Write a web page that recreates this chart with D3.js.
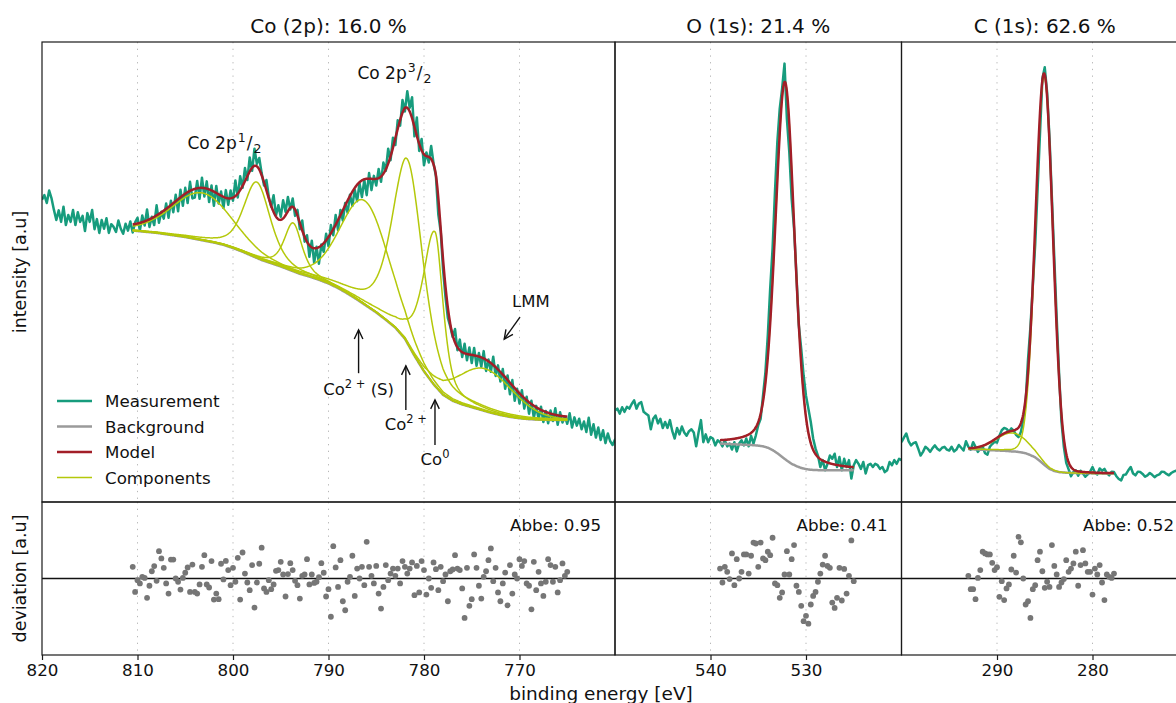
<!DOCTYPE html>
<html>
<head>
<meta charset="utf-8">
<script src="https://cdn.jsdelivr.net/npm/d3@7"></script>
<style>
  html, body { margin: 0; padding: 0; background: #ffffff; }
  svg { display: block; font-family: "DejaVu Sans", sans-serif; }
</style>
</head>
<body>
<svg id="chart" width="1176" height="703"></svg>
<script>
// ---------------------------------------------------------------------------
// XPS fit summary: Co 2p, O 1s and C 1s regions with fitted components
// and the normalised deviation of each fit.
// ---------------------------------------------------------------------------

// Sampling of the measured spectra (binding energy, eV)
const measStep = 0.25;

// ---- Co 2p region ----------------------------------------------------------
const coTitle = "Co (2p): 16.0 %";
const coMeasStart = 820;
const coMeasurement = [
  65.7, 66.7, 65.0, 67.7, 66.0, 63.5, 61.3, 63.4, 60.9, 64.2,
  60.2, 62.4, 60.9, 63.5, 60.2, 63.0, 60.9, 62.2, 58.9, 62.8,
  60.9, 63.5, 59.3, 61.5, 58.5, 61.3, 59.4, 61.7, 58.5, 60.4,
  59.8, 58.7, 61.2, 59.4, 58.3, 60.5, 59.0, 61.0, 58.6, 60.8,
  61.8, 59.0, 62.3, 60.1, 63.6, 59.8, 62.0, 60.2, 64.5, 60.7,
  63.1, 61.6, 64.9, 61.8, 65.5, 63.0, 66.8, 63.2, 67.9, 64.4,
  68.3, 65.0, 69.6, 66.0, 66.2, 69.8, 65.9, 70.5, 66.4, 69.7,
  65.2, 68.8, 64.4, 68.7, 64.9, 67.5, 63.9, 67.8, 64.6, 67.7,
  65.5, 69.9, 66.2, 70.8, 68.3, 72.6, 70.0, 74.9, 72.0, 76.8,
  73.5, 74.8, 71.5, 68.8, 70.0, 66.3, 64.2, 66.7, 62.3, 64.5,
  62.0, 65.6, 63.1, 66.3, 63.6, 66.0, 62.2, 63.5, 59.3, 61.2,
  56.6, 58.0, 53.3, 56.8, 52.0, 55.5, 51.8, 56.0, 54.4, 58.3,
  55.6, 60.2, 58.0, 62.4, 59.1, 63.5, 61.2, 65.0, 62.9, 66.8,
  64.4, 67.9, 65.4, 69.3, 66.3, 70.0, 66.7, 71.5, 67.8, 70.9,
  68.8, 72.4, 69.6, 73.8, 72.0, 76.8, 74.3, 79.2, 77.6, 83.0,
  81.8, 87.4, 84.9, 89.3, 85.7, 88.0, 79.5, 83.6, 76.3, 78.9,
  73.2, 76.0, 73.8, 77.4, 73.6, 70.8, 62.5, 58.8, 50.4, 44.6,
  40.0, 38.2, 35.9, 37.6, 33.0, 35.3, 31.5, 34.4, 30.8, 33.6,
  30.2, 33.5, 29.6, 32.4, 29.4, 32.8, 28.5, 31.0, 28.3, 31.6,
  27.4, 29.7, 26.2, 28.9, 24.6, 27.5, 23.4, 26.5, 22.0, 24.6,
  21.4, 24.3, 20.3, 22.9, 19.2, 22.0, 18.3, 20.9, 18.0, 20.7,
  17.4, 19.8, 17.1, 19.9, 17.6, 20.4, 16.8, 19.5, 17.3, 18.6,
  17.0, 19.3, 16.2, 18.4, 16.6, 18.1, 15.8, 17.5, 15.2, 18.3,
  14.6, 16.9, 14.0, 16.2, 13.5, 15.6, 12.8, 14.9, 13.2, 12.4,
  13.6, 12.6
];
// Shirley background, 1 eV nodes from 811 eV downwards
const coBgStart = 811, coBgStep = 1;
const coBackground = [
  59.1, 58.9, 58.7, 58.5, 58.2, 57.9, 57.6, 57.2, 56.8, 56.4,
  55.9, 55.2, 54.4, 53.5, 52.6, 51.9, 51.2, 50.4, 49.6, 49.0,
  48.3, 47.5, 46.5, 45.3, 44.0, 42.6, 41.2, 39.6, 37.9, 35.5,
  31.8, 28.4, 25.6, 23.3, 22.0, 21.2, 20.6, 20.0, 19.4, 18.9,
  18.5, 18.2, 18.0, 17.9, 17.85, 17.8, 17.8
];
const coFitRange = [810.5, 765.0];
// Fitted components: 2p1/2 satellite, Co2+, Co0; 2p3/2 satellite, Co2+, Co0; LMM
const coPeakCenter = [803.2, 797.5, 793.7, 786.2, 781.7, 778.85, 773.6];
const coPeakHeight = [10.3, 16.5, 10.5, 22.6, 40.0, 33.5, 9.2];
const coPeakFwhm   = [7.4, 3.3, 2.2, 6.0, 3.8, 2.0, 7.0];
const coPeakEta    = [0.2, 0.5, 0.6, 0.2, 0.5, 0.6, 0.1];
const coPeakTail   = [0, 0, 0, 0, 0, 0.5, 0];
const coDevStart = 810.5;
const coDeviation = [
  0.61, -0.70, -0.09, -0.26, 0.09, 0.03, -1.01, -0.38, 0.38, 0.65,
  -0.12, 1.43, 1.05, 0.56, -0.26, -0.79, 0.99, 0.99, 0.00, -0.17,
  -0.58, 0.03, 0.30, 0.58, -0.70, 0.73, -0.70, -0.79, -0.31, 0.61,
  1.22, -0.31, -0.47, 0.91, -1.10, -0.79, -1.08, 0.77, -0.05, 0.92,
  0.44, -0.35, 0.56, -0.17, 1.08, -1.10, 1.36, 0.26, -0.21, -0.61,
  0.70, -1.52, -0.21, 0.77, 1.61, -0.52, -0.70, -0.09, -0.56, -0.31,
  0.40, 0.44, 0.87, 0.21, -0.94, 0.23, 0.80, 0.44, -0.12, -0.35,
  -1.05, 0.14, 0.21, 1.01, -0.31, 0.21, -0.23, -0.17, 0.07, 0.80,
  0.30, -0.94, -0.56,
  -2.00, 1.69, 0.58, -0.44, 0.96, -1.19, -1.66, -0.17, 0.09, 1.19,
  -0.91, 0.52, 0.00, 0.61, -0.35, 1.92, 0.61, 0.14, -0.26, 0.66,
  -0.79, -1.57, -0.44, 0.70, -0.09, 0.26, 0.52, 0.14, 0.52, -0.26,
  0.91, 0.61, 0.26, 0.52, 0.84, -0.87, 0.66, -0.73, 0.91, 0.44,
  -0.84, 0.00, -0.49, 0.84, 0.49, -0.61, 0.61, -0.14, 0.21, -1.19,
  0.38, 0.47, 1.22, 0.52, 0.44, -0.52, -2.06, 0.56, -1.43, -1.08,
  1.26, 0.56, -0.38, -1.05, 0.09, 0.38, 0.96, 1.57, -0.14, 0.56,
  -0.73, -1.19, -0.26, 0.31, -1.40, 0.70, -0.79, 0.21, 0.00, 1.01,
  0.66, 0.91, -0.26, -0.38, -1.61, 0.87, -0.61, 0.35, -0.26, -0.91,
  -0.17, 1.01, 0.70, -0.17, 0.61, -0.73, -0.09, 0.79, 0.14, 0.35
];
const coAbbe = "Abbe: 0.95";
const coTicks = [820, 810, 800, 790, 780, 770];

// ---- O 1s region -----------------------------------------------------------
const oTitle = "O (1s): 21.4 %";
const oMeasStart = 550;
const oMeasurement = [
  19.9, 20.3, 19.2, 20.6, 19.6, 20.7, 20.3, 21.3, 22.1, 20.3,
  21.4, 21.7, 19.6, 19.2, 18.8, 15.8, 18.1, 18.8, 17.1, 18.1,
  16.1, 17.4, 16.1, 17.8, 15.4, 13.8, 16.1, 14.7, 16.4, 15.1,
  14.4, 15.4, 15.8, 15.1, 12.1, 15.1, 17.8, 13.0, 14.7, 13.0,
  14.1, 13.8, 12.3, 13.4, 13.0, 12.1, 13.4, 12.1, 12.7, 11.4,
  13.0, 11.0, 12.7, 13.4, 12.3, 13.8, 12.1, 14.4, 12.7, 14.5,
  16.7, 18.1, 23.1, 28.2, 36.2, 46.4, 55.1, 67.4, 78.3, 85.5,
  89.9, 95.3, 83.3, 76.1, 65.9, 59.4, 49.3, 38.4, 33.3, 27.5,
  23.1, 20.3, 17.4, 13.8, 11.6, 10.1, 7.6, 9.1, 6.9, 8.3,
  10.1, 9.4, 10.5, 7.6, 9.8, 6.9, 9.4, 7.6, 9.1, 5.1,
  8.0, 9.1, 8.3, 7.2, 8.7, 6.2, 8.0, 8.3, 7.6, 8.3,
  8.0, 7.2, 7.6, 6.5, 6.9, 8.7, 8.0, 9.1, 8.3, 9.4,
  9.1
];
const oBgStart = 539, oBgStep = 0.5;
const oBackground = [
  12.7, 12.65, 12.6, 12.55, 12.5, 12.45, 12.4, 12.35, 12.25, 12.1,
  11.8, 11.3, 10.6, 9.8, 9.0, 8.3, 7.8, 7.4, 7.15, 7.0,
  6.95, 6.9, 6.9, 6.9, 6.9, 6.9, 6.9, 6.9, 6.9
];
const oFitRange = [539.0, 525.0];
const oPeakCenter = [532.2];
const oPeakHeight = [82.0];
const oPeakFwhm   = [2.4];
const oPeakEta    = [0.3];
const oPeakTail   = [0];
const oDevStart = 539.0;
const oDeviation = [
  0.52, -0.21, 0.61, 0.35, -0.03, 1.31, -0.35, 1.01, 0.00, 0.35,
  1.26, 1.26, 0.26, 1.19, 1.88, 1.83, 0.61, 1.88, 1.05, 0.96,
  1.40, 1.22, 2.13, -0.26, -0.35, -1.01, -0.73, 0.21, 1.43, 0.21,
  1.01, 1.75, -0.38, -0.70, -1.43, -2.23, -1.95, -2.36, -1.36, -0.91,
  -0.70, -0.17, 0.26, 0.73, 1.19, 0.66, 0.56, -1.26, -1.54, -1.01,
  0.56, -1.15, 0.50, -0.79, 0.14, 1.99, -0.14
];
const oAbbe = "Abbe: 0.41";
const oTicks = [540, 530];

// ---- C 1s region -----------------------------------------------------------
const cTitle = "C (1s): 62.6 %";
const cMeasStart = 300;
const cMeasurement = [
  13.0, 14.0, 14.9, 13.2, 12.3, 12.8, 13.0, 11.6, 10.1, 10.9,
  12.0, 11.6, 10.9, 11.7, 12.3, 11.6, 11.2, 11.8, 12.0, 11.4,
  11.2, 12.0, 11.0, 11.4, 12.4, 11.8, 11.2, 13.2, 12.0, 11.4,
  13.0, 12.0, 10.9, 11.6, 12.0, 10.6, 10.3, 12.0, 12.6, 13.1,
  12.9, 14.4, 15.6, 16.1, 15.9, 15.3, 16.0, 15.5, 14.6, 14.1,
  15.2, 17.8, 21.7, 31.0, 38.0, 47.0, 56.0, 68.0, 80.0, 92.0,
  94.5, 89.0, 79.0, 66.0, 53.0, 40.0, 28.0, 17.5, 12.0, 8.5,
  7.1, 5.6, 6.5, 6.9, 5.7, 6.8, 6.2, 5.5, 6.0, 6.6,
  7.6, 6.4, 6.0, 7.3, 6.8, 7.2, 6.3, 5.8, 6.6, 6.5,
  5.6, 5.0, 4.7, 5.9, 6.0, 6.9, 7.6, 6.2, 5.8, 6.6,
  6.5, 6.1, 5.5, 5.8, 6.3, 5.9, 5.4, 5.8, 6.0, 6.6,
  6.5, 6.1, 5.8, 6.3, 6.6, 6.8, 6.4
];
const cBgStart = 293, cBgStep = 0.5;
const cBackground = [
  11.5, 11.45, 11.4, 11.35, 11.3, 11.25, 11.2, 11.15, 11.1, 11.0,
  10.95, 10.8, 10.6, 10.2, 9.7, 8.9, 8.0, 7.2, 6.75, 6.5,
  6.4, 6.35, 6.3, 6.27, 6.25, 6.23, 6.22, 6.21, 6.2, 6.2,
  6.2, 6.2
];
const cFitRange = [293.0, 277.75];
const cPeakCenter = [285.05, 288.4];
const cPeakHeight = [84.5, 4.0];
const cPeakFwhm   = [2.15, 4.0];
const cPeakEta    = [0.05, 0.0];
const cPeakTail   = [0, 0];
const cDevStart = 293.0;
const cDeviation = [
  0.14, -0.56, -0.56, -1.08, 0.03, 0.44, 1.40, 1.31, 1.26, 1.26,
  0.82, 0.44, 0.59, -0.96, -0.14, -1.13, -0.52, -0.31, 0.47, 1.19,
  0.31, 2.18, 1.89, 0.00, -1.36, -1.19, -2.06, -0.56, -0.35, 0.96,
  1.40, 0.38, -0.49, -0.17, -0.44, 1.75, 0.66, 0.21, -0.44, -0.21,
  -0.03, 0.96, 0.35, 0.52, 0.79, 1.40, -0.38, 0.70, 1.48, 0.79,
  0.35, 0.35, -0.84, 0.52, 0.21, 0.70, -0.21, -1.13, 0.21, 0.09,
  0.03, 0.26
];
const cAbbe = "Abbe: 0.52";
const cTicks = [290, 280];

// ---- legend and labels -----------------------------------------------------
const legendLabels = ["Measurement", "Background", "Model", "Components"];
const xLabel = "binding energy [eV]";
const yLabelTop = "intensity [a.u]";
const yLabelBottom = "deviation [a.u]";

// ---------------------------------------------------------------------------
// Styling and layout
// ---------------------------------------------------------------------------
const COLORS = {
  measurement: "#179c7d",
  background: "#9a9a9a",
  model: "#a21e28",
  component: "#b4c80a",
  deviation: "#767676",
  grid: "#b8b8b8",
  axis: "#1a1a1a"
};
const TOP = { y0: 42, y1: 502 };
const BOT = { y0: 502, y1: 655 };
const pxPerEv = 9.55;

const yTop = d3.scaleLinear().domain([0, 100]).range([TOP.y1, TOP.y0]);
const yDev = d3.scaleLinear().domain([-4, 4]).range([BOT.y1, BOT.y0]);

function peaksOf(center, height, fwhm, eta, tail) {
  return center.map((c, i) => ({ center: c, height: height[i], fwhm: fwhm[i], eta: eta[i], tail: tail[i] }));
}

const panels = [
  {
    id: "co", title: coTitle, domain: [820, 760], x0: 42,
    measStart: coMeasStart, meas: coMeasurement,
    bgStart: coBgStart, bgStep: coBgStep, bg: coBackground,
    fit: coFitRange, peaks: peaksOf(coPeakCenter, coPeakHeight, coPeakFwhm, coPeakEta, coPeakTail),
    devStart: coDevStart, dev: coDeviation, abbe: coAbbe, ticks: coTicks
  },
  {
    id: "o", title: oTitle, domain: [550, 520], x0: 42 + 60 * pxPerEv,
    measStart: oMeasStart, meas: oMeasurement,
    bgStart: oBgStart, bgStep: oBgStep, bg: oBackground,
    fit: oFitRange, peaks: peaksOf(oPeakCenter, oPeakHeight, oPeakFwhm, oPeakEta, oPeakTail),
    devStart: oDevStart, dev: oDeviation, abbe: oAbbe, ticks: oTicks
  },
  {
    id: "c", title: cTitle, domain: [300, 270], x0: 42 + 90 * pxPerEv,
    measStart: cMeasStart, meas: cMeasurement,
    bgStart: cBgStart, bgStep: cBgStep, bg: cBackground,
    fit: cFitRange, peaks: peaksOf(cPeakCenter, cPeakHeight, cPeakFwhm, cPeakEta, cPeakTail),
    devStart: cDevStart, dev: cDeviation, abbe: cAbbe, ticks: cTicks
  }
];

// Pseudo-Voigt line shape; the high binding energy side may be widened.
function lineShape(e, p) {
  const d = e - p.center;
  const w = d > 0 ? p.fwhm * (1 + p.tail) : p.fwhm;
  const r = d / w;
  const g = Math.exp(-4 * Math.LN2 * r * r);
  const l = 1 / (1 + 4 * r * r);
  return p.height * ((1 - p.eta) * g + p.eta * l);
}

const svg = d3.select("#chart");

panels.forEach((P) => {
  const width = Math.abs(P.domain[0] - P.domain[1]) * pxPerEv;
  P.x1 = P.x0 + width;
  const x = d3.scaleLinear().domain(P.domain).range([P.x0, P.x1]);
  P.x = x;

  const g = svg.append("g").attr("class", "panel-" + P.id);

  // clip regions
  const defs = svg.append("defs");
  defs.append("clipPath").attr("id", "clip-top-" + P.id)
    .append("rect").attr("x", P.x0).attr("y", TOP.y0).attr("width", width).attr("height", TOP.y1 - TOP.y0);
  defs.append("clipPath").attr("id", "clip-bot-" + P.id)
    .append("rect").attr("x", P.x0).attr("y", BOT.y0).attr("width", width).attr("height", BOT.y1 - BOT.y0);

  // dotted vertical grid lines
  const gridTicks = P.ticks.filter(t => Math.abs(x(t) - P.x0) > 1);
  [TOP, BOT].forEach(box => {
    g.append("g").selectAll("line").data(gridTicks).join("line")
      .attr("x1", d => x(d)).attr("x2", d => x(d))
      .attr("y1", box.y0).attr("y2", box.y1)
      .attr("stroke", COLORS.grid).attr("stroke-width", 1)
      .attr("stroke-dasharray", "1.3,5.4");
  });

  // energies
  const measE = P.meas.map((_, i) => P.measStart - i * measStep);
  const bgE = P.bg.map((_, i) => P.bgStart - i * P.bgStep);
  const bgScale = d3.scaleLinear().domain(bgE).range(P.bg).clamp(true);
  const fitE = d3.range(P.fit[0], P.fit[1] - 1e-9, -0.05);
  if (Math.abs(fitE[fitE.length - 1] - P.fit[1]) > 1e-6) fitE.push(P.fit[1]);

  const top = g.append("g").attr("clip-path", "url(#clip-top-" + P.id + ")");
  const line = d3.line().x(d => x(d[0])).y(d => yTop(d[1]));

  // measurement
  top.append("path")
    .datum(measE.map((e, i) => [e, P.meas[i]]))
    .attr("d", line).attr("fill", "none")
    .attr("stroke", COLORS.measurement).attr("stroke-width", 2.5)
    .attr("stroke-linejoin", "round");

  // background
  top.append("path")
    .datum(fitE.map(e => [e, bgScale(e)]))
    .attr("d", line).attr("fill", "none")
    .attr("stroke", COLORS.background).attr("stroke-width", 2.5);

  // components (each on top of the background)
  P.peaks.forEach(p => {
    top.append("path")
      .datum(fitE.map(e => [e, bgScale(e) + lineShape(e, p)]))
      .attr("d", line).attr("fill", "none")
      .attr("stroke", COLORS.component).attr("stroke-width", 1.5);
  });

  // model = background + sum of components
  top.append("path")
    .datum(fitE.map(e => [e, bgScale(e) + d3.sum(P.peaks, p => lineShape(e, p))]))
    .attr("d", line).attr("fill", "none")
    .attr("stroke", COLORS.model).attr("stroke-width", 2.5)
    .attr("stroke-linejoin", "round");

  // deviation panel
  const bot = g.append("g").attr("clip-path", "url(#clip-bot-" + P.id + ")");
  bot.append("line")
    .attr("x1", P.x0).attr("x2", P.x1).attr("y1", yDev(0)).attr("y2", yDev(0))
    .attr("stroke", "#111").attr("stroke-width", 1.5);
  bot.append("g").selectAll("circle")
    .data(P.dev.map((v, i) => [P.devStart - i * measStep, v]))
    .join("circle")
    .attr("cx", d => x(d[0])).attr("cy", d => yDev(d[1])).attr("r", 2.9)
    .attr("fill", COLORS.deviation);

  g.append("text")
    .attr("x", P.x1 - 14).attr("y", 531)
    .attr("text-anchor", "end").attr("font-size", 16.7).attr("fill", "#111")
    .text(P.abbe);

  // frames
  [TOP, BOT].forEach(box => {
    g.append("rect").attr("x", P.x0).attr("y", box.y0)
      .attr("width", width).attr("height", box.y1 - box.y0)
      .attr("fill", "none").attr("stroke", COLORS.axis).attr("stroke-width", 1.2);
  });

  // bottom axis
  const axis = d3.axisBottom(x).tickValues(P.ticks).tickSize(5).tickPadding(4).tickFormat(d3.format("d"));
  const ag = g.append("g").attr("transform", `translate(0,${BOT.y1})`).call(axis);
  ag.select(".domain").remove();
  ag.selectAll(".tick line").attr("stroke", COLORS.axis).attr("stroke-width", 1.2);
  ag.selectAll(".tick text").attr("font-size", 16.7).attr("fill", "#111")
    .attr("font-family", "DejaVu Sans, sans-serif");

  // title
  g.append("text")
    .attr("x", (P.x0 + P.x1) / 2).attr("y", 33)
    .attr("text-anchor", "middle").attr("font-size", 20).attr("fill", "#111")
    .text(P.title);
});

// axis labels
svg.append("text").attr("x", 601).attr("y", 700)
  .attr("text-anchor", "middle").attr("font-size", 18.5).attr("fill", "#111").text(xLabel);
svg.append("text")
  .attr("transform", `translate(26,${(TOP.y0 + TOP.y1) / 2}) rotate(-90)`)
  .attr("text-anchor", "middle").attr("font-size", 17.5).attr("fill", "#111").text(yLabelTop);
svg.append("text")
  .attr("transform", `translate(26,${(BOT.y0 + BOT.y1) / 2}) rotate(-90)`)
  .attr("text-anchor", "middle").attr("font-size", 17.5).attr("fill", "#111").text(yLabelBottom);

// legend
const legendStyles = [
  { color: COLORS.measurement, width: 2.5 },
  { color: COLORS.background, width: 2.5 },
  { color: COLORS.model, width: 2.5 },
  { color: COLORS.component, width: 1.5 }
];
const legend = svg.append("g").attr("class", "legend");
legendLabels.forEach((lab, i) => {
  const y = 401 + i * 25.5;
  legend.append("line").attr("x1", 57).attr("x2", 92).attr("y1", y).attr("y2", y)
    .attr("stroke", legendStyles[i].color).attr("stroke-width", legendStyles[i].width);
  legend.append("text").attr("x", 105).attr("y", y + 6)
    .attr("font-size", 16.7).attr("fill", "#111").text(lab);
});

// annotations in the Co 2p panel
const xCo = panels[0].x;
const annot = svg.append("g").attr("class", "annotations").attr("fill", "#111");

function richText(parent, xPos, yPos, parts, anchor, size, scriptSize) {
  const t = parent.append("text").attr("x", xPos).attr("y", yPos)
    .attr("text-anchor", anchor).attr("font-size", size);
  let shift = 0;
  parts.forEach(p => {
    const target = p.sup ? -0.42 * size : p.sub ? 0.22 * size : 0;
    t.append("tspan").attr("dy", target - shift).attr("dx", p.gap || 0)
      .attr("font-size", p.sup || p.sub ? scriptSize : size).text(p.t);
    shift = target;
  });
  return t;
}
function arrow(parent, xa, ya, xb, yb) {
  const a = Math.atan2(yb - ya, xb - xa);
  const hl = 9, hw = 4.3;
  const bx = xb - hl * Math.cos(a), by = yb - hl * Math.sin(a);
  const px = -Math.sin(a) * hw, py = Math.cos(a) * hw;
  parent.append("line").attr("x1", xa).attr("y1", ya).attr("x2", xb).attr("y2", yb)
    .attr("stroke", "#111").attr("stroke-width", 1.4);
  parent.append("path").attr("d", `M${bx + px},${by + py}L${xb},${yb}L${bx - px},${by - py}`)
    .attr("fill", "none").attr("stroke", "#111").attr("stroke-width", 1.4);
}

// doublet labels (energy, intensity of the text anchor)
richText(annot, xCo(800.9), yTop(76.7),
  [{ t: "Co 2p" }, { t: "1", sup: true, gap: 1 }, { t: "/", gap: 1 }, { t: "2", sub: true, gap: 1 }],
  "middle", 17, 12.5);
richText(annot, xCo(783.1), yTop(92.0),
  [{ t: "Co 2p" }, { t: "3", sup: true, gap: 1 }, { t: "/", gap: 1 }, { t: "2", sub: true, gap: 1 }],
  "middle", 17, 12.5);

// chemical state markers: energy, arrow start, arrow tip, text baseline
const stateEnergy = [786.85, 781.9, 778.85];
const stateArrowFrom = [28.0, 20.0, 12.4];
const stateArrowTo = [37.4, 29.6, 22.2];
const stateTextY = [23.3, 15.7, 8.0];
const stateLabels = [
  [{ t: "Co" }, { t: "2 +", sup: true }, { t: " (S)" }],
  [{ t: "Co" }, { t: "2 +", sup: true }],
  [{ t: "Co" }, { t: "0", sup: true }]
];
stateEnergy.forEach((e, i) => {
  arrow(annot, xCo(e), yTop(stateArrowFrom[i]), xCo(e), yTop(stateArrowTo[i]));
  richText(annot, xCo(e), yTop(stateTextY[i]), stateLabels[i], "middle", 16.5, 11.5);
});

// Auger feature
richText(annot, xCo(768.8), yTop(42.3), [{ t: "LMM" }], "middle", 16.5, 11.5);
arrow(annot, xCo(769.95), yTop(40.2), xCo(771.6), yTop(35.4));
</script>
</body>
</html>
